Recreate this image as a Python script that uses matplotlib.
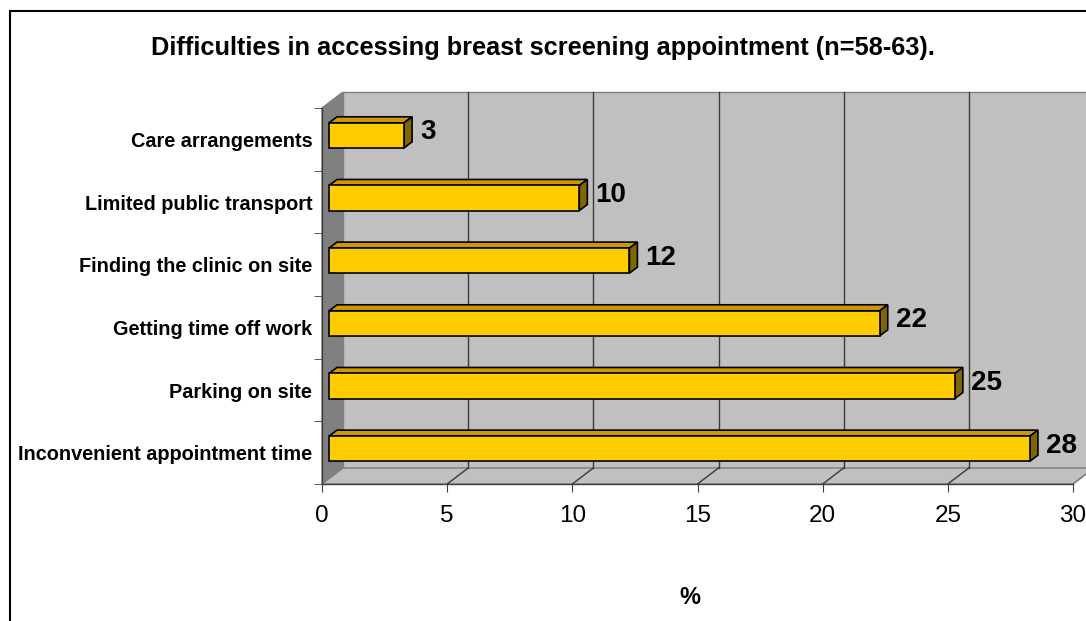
import numpy as np
import matplotlib
matplotlib.use("Agg")
import matplotlib.pyplot as plt
from matplotlib.patches import Polygon, Rectangle

plt.rcParams['font.family'] = ['Liberation Sans', 'DejaVu Sans']

# data, bottom to top as drawn
categories = ['Inconvenient appointment time', 'Parking on site', 'Getting time off work',
              'Finding the clinic on site', 'Limited public transport', 'Care arrangements']
percent = [28, 25, 22, 12, 10, 3]
x_ticks = [0, 5, 10, 15, 20, 25, 30]
title = 'Difficulties in accessing breast screening appointment (n=58-63).'
x_label = '%'

W, H, DPI = 1086, 621, 100
fig = plt.figure(figsize=(W / DPI, H / DPI), dpi=DPI)
ax = fig.add_axes([322 / W, 137 / H, 751 / W, 376 / H])
ax.set_xlim(x_ticks[0], x_ticks[-1])
ax.set_ylim(-0.5, len(categories) - 0.5)
ax.patch.set_visible(False)


def px2data(dx, dy):
    # pixel offset -> data offset (dy positive = up)
    x0, x1 = ax.get_xlim()
    y0, y1 = ax.get_ylim()
    bb = ax.get_position()
    return dx * (x1 - x0) / (bb.width * W), dy * (y1 - y0) / (bb.height * H)


xmin, xmax = ax.get_xlim()
ymin, ymax = ax.get_ylim()
ddx, ddy = px2data(21, 16)          # depth of the 3d box
fx, fy = px2data(7, 4)              # front face of bars
bx, by = px2data(8, 6)              # bar depth

wall = '#c0c0c0'
edge = '#808080'
grid = '#3a3a3a'

# back wall
ax.add_patch(Rectangle((xmin + ddx, ymin + ddy), xmax - xmin, ymax - ymin,
                       facecolor=wall, edgecolor=edge, lw=1, clip_on=False, zorder=0))
# side wall
ax.add_patch(Polygon([(xmin, ymin), (xmin + ddx, ymin + ddy), (xmin + ddx, ymax + ddy), (xmin, ymax)],
                     closed=True, facecolor='#808080', edgecolor=edge, lw=1, clip_on=False, zorder=0))
# floor
ax.add_patch(Polygon([(xmin, ymin), (xmax, ymin), (xmax + ddx, ymin + ddy), (xmin + ddx, ymin + ddy)],
                     closed=True, facecolor=wall, edgecolor=edge, lw=1, clip_on=False, zorder=0))

# gridlines on back wall and floor
for t in x_ticks[1:-1]:
    ax.plot([t + ddx, t + ddx], [ymin + ddy, ymax + ddy], color=grid, lw=1, clip_on=False, zorder=1)
    ax.plot([t, t + ddx], [ymin, ymin + ddy], color=grid, lw=1, clip_on=False, zorder=1)
ax.plot([xmax, xmax + ddx], [ymin, ymin + ddy], color=edge, lw=1, clip_on=False, zorder=1)

# bars
h = 0.4
ypos = np.arange(len(categories))
bars = ax.barh(ypos + fy, percent, left=fx, height=h, color='#ffcc00',
               edgecolor='black', lw=1.2, zorder=3)
for b, v in zip(bars, percent):
    x0, y0 = b.get_x(), b.get_y()
    x1, y1 = x0 + b.get_width(), y0 + b.get_height()
    ax.add_patch(Polygon([(x0, y1), (x1, y1), (x1 + bx, y1 + by), (x0 + bx, y1 + by)], closed=True,
                         facecolor='#cc9900', edgecolor='black', lw=1.2, zorder=2, clip_on=False))
    ax.add_patch(Polygon([(x1, y0), (x1 + bx, y0 + by), (x1 + bx, y1 + by), (x1, y1)], closed=True,
                         facecolor='#806600', edgecolor='black', lw=1.2, zorder=2, clip_on=False))
    ax.annotate(str(v), xy=(x1 + bx, (y0 + y1 + by) / 2), xytext=(8, 0), textcoords='offset pixels',
                ha='left', va='center', fontsize=20, fontweight='bold', annotation_clip=False)

# axes
for s in ['top', 'right']:
    ax.spines[s].set_visible(False)
for s in ['left', 'bottom']:
    ax.spines[s].set_color('#404040')
    ax.spines[s].set_linewidth(1)
ax.set_xticks(x_ticks)
ax.tick_params(axis='x', direction='out', length=6, color='#404040', labelsize=17.5, pad=9)
ax.set_yticks(ypos)
ax.set_yticklabels(categories, fontsize=14.3, fontweight='bold')
ax.set_yticks(np.arange(len(categories) + 1) - 0.5, minor=True)
ax.tick_params(axis='y', which='major', length=0, pad=7)
ax.tick_params(axis='y', which='minor', direction='out', length=6, color='#404040')
ax.set_xlabel(x_label, fontsize=17, fontweight='bold')
ax.xaxis.set_label_coords(0.49, -0.27)

fig.text(543 / W, 1 - 48 / H, title, ha='center', va='center', fontsize=18.3, fontweight='bold')

# chart area frame (runs off the right and bottom edges)
fig.patches.append(Rectangle((10 / W, -1), 2, 2 - 11 / H, transform=fig.transFigure,
                             fill=False, edgecolor='black', lw=1.5))

fig.savefig('out.png', dpi=DPI)
